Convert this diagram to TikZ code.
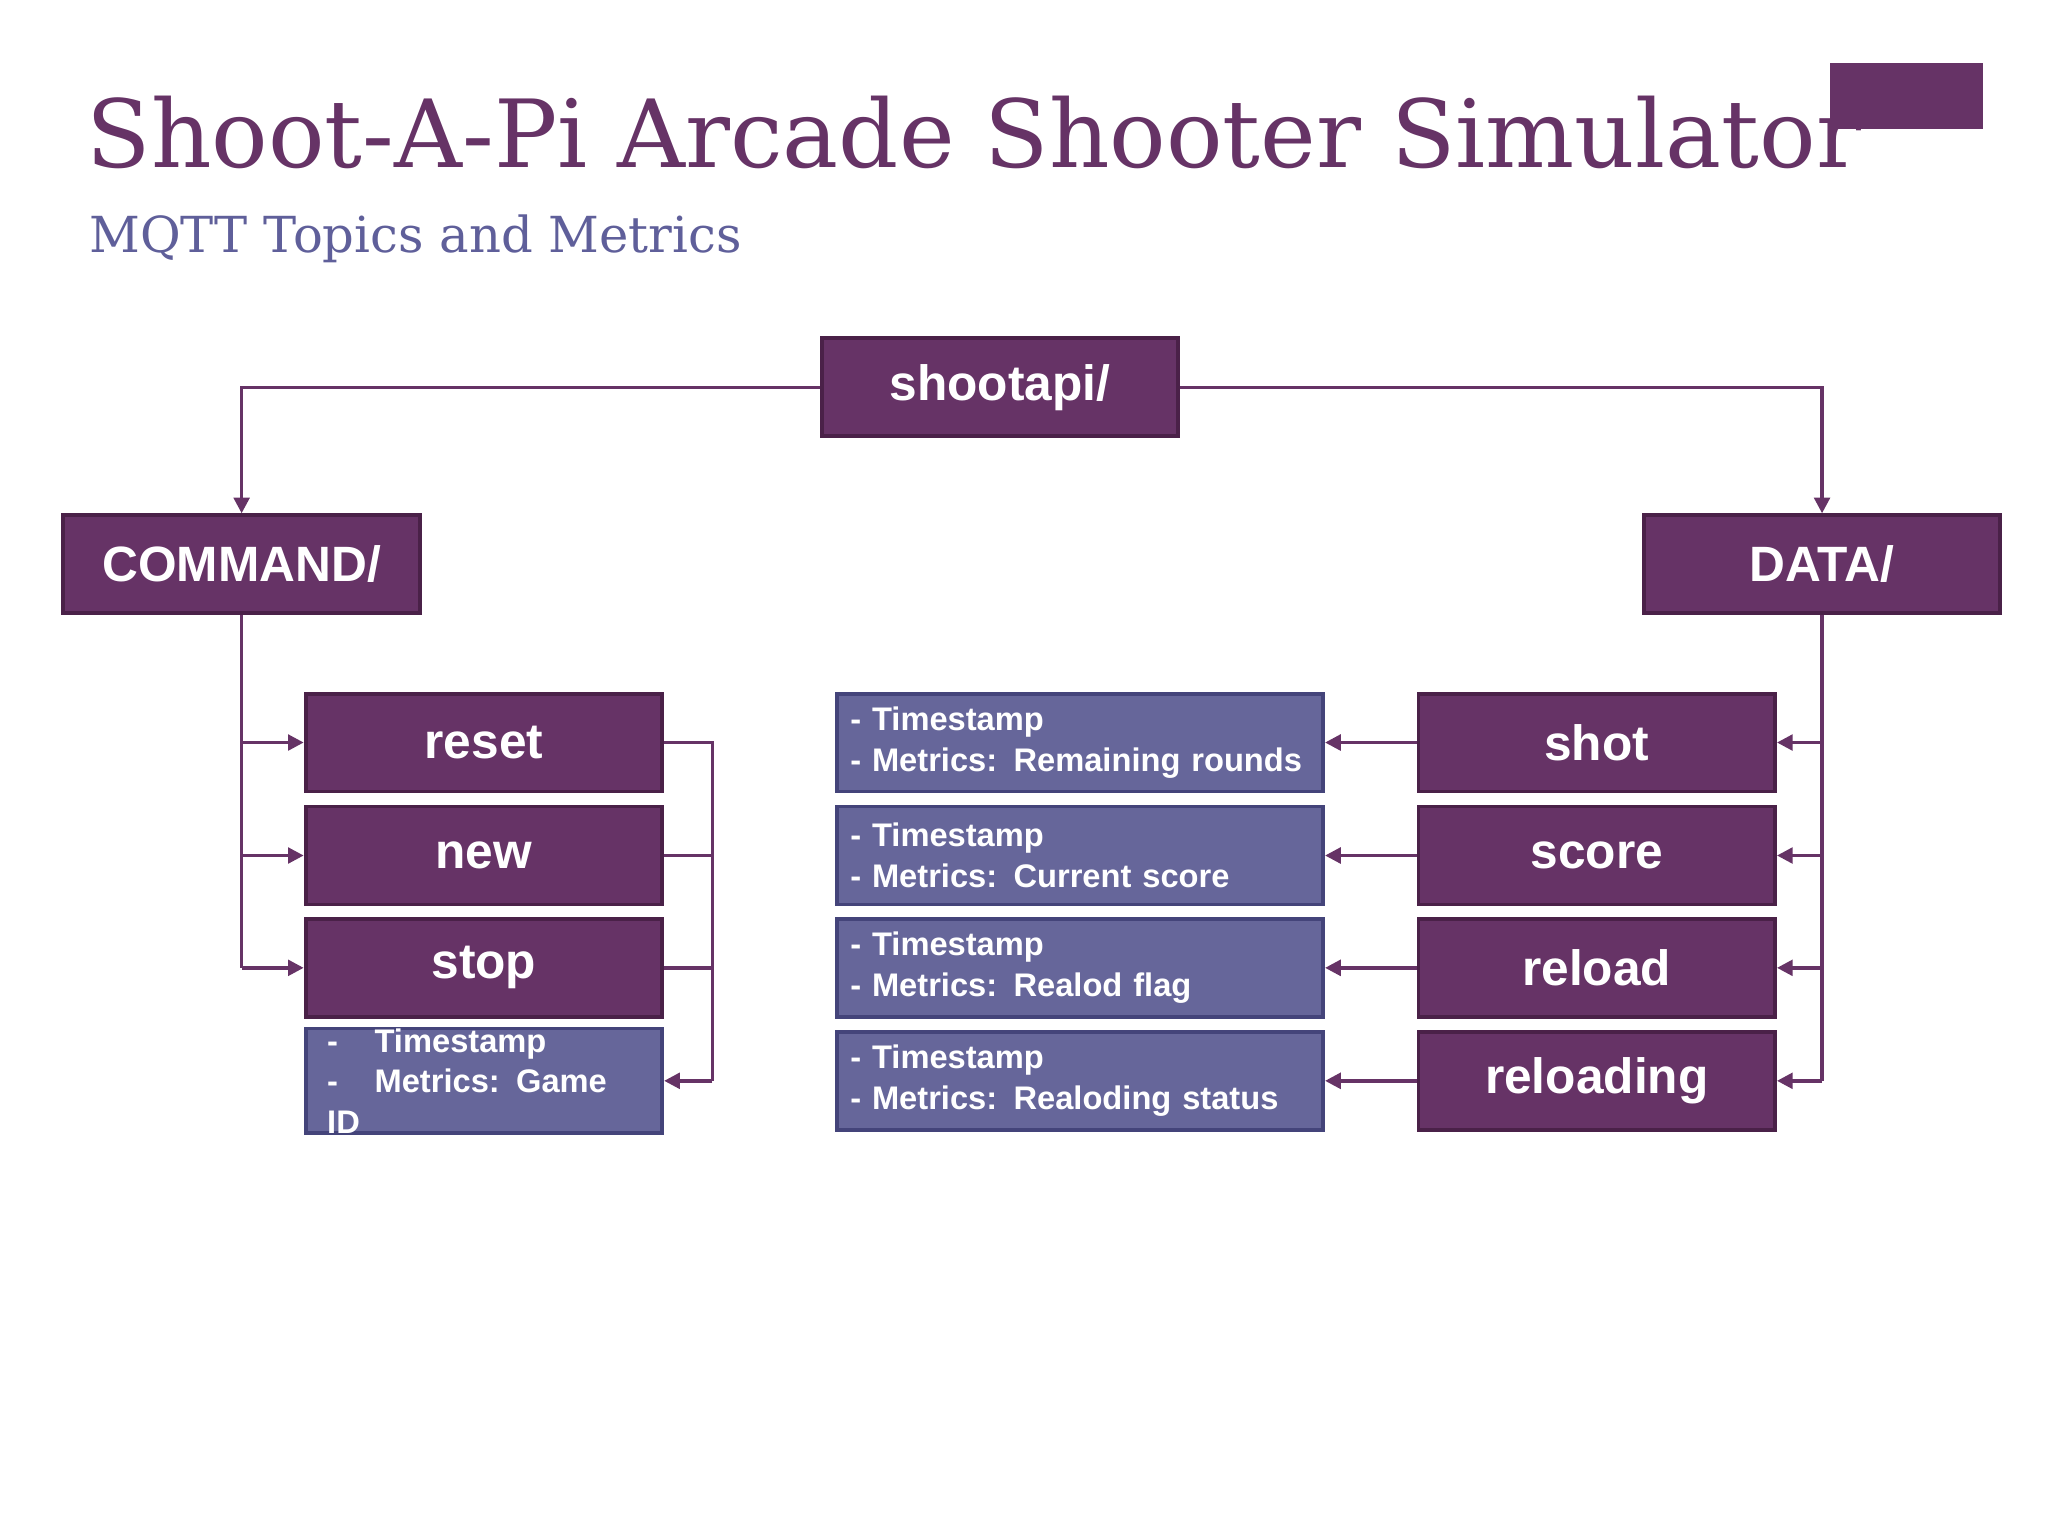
\documentclass[tikz,border=0pt]{standalone}
\usepackage{fontspec}
\setmainfont{Liberation Sans}
\newfontfamily\titlefont{DejaVu Serif}
\usetikzlibrary{arrows.meta}
\definecolor{pur}{HTML}{663366}
\definecolor{purd}{HTML}{4A2148}
\definecolor{blu}{HTML}{66669A}
\definecolor{blud}{HTML}{44447A}
\definecolor{sub}{HTML}{5F5F9A}
\tikzset{
 pbox/.style={draw=purd,line width=1.5pt,fill=pur,text=white,font=\bfseries\fontsize{19}{22}\selectfont,minimum width=136.5pt,minimum height=37.5pt,inner sep=0pt},
 ibox/.style={draw=blud,line width=1.5pt,fill=blu,text=white,font=\bfseries\fontsize{12.5}{15.5}\selectfont,minimum height=37.5pt,inner sep=0pt,align=left},
 con/.style={draw=pur,line width=1.3pt},
 arr/.style={con,-{Triangle[length=6pt,width=6pt]}}
}
\begin{document}
\begin{tikzpicture}[x=0.5pt,y=-0.5pt]
\useasboundingbox (0,0) rectangle (1568,1176);
\fill[white] (0,0) rectangle (1568,1176);
\fill[pur] (1401,48) rectangle (1518,99);
\node[anchor=base west,text=pur,inner sep=0] (title) at (66,128) {\titlefont\fontsize{36}{40}\selectfont Shoot-A-Pi Arcade Shooter Simulator};
\node[anchor=base west,text=sub,inner sep=0] (subt) at (68,193) {\titlefont\fontsize{19}{22}\selectfont MQTT Topics and Metrics};

\node[pbox] (root) at (765.5,296.5) {shootapi/};
\node[pbox] (cmd) at (185,432) {COMMAND/};
\node[pbox] (data) at (1395,432) {DATA/};
\node[pbox] (reset) at (370.5,568.5) {reset};
\node[pbox] (new) at (370.5,655) {new};
\node[pbox] (stop) at (370.5,741) {stop};
\node[ibox,minimum width=136.5pt,text width=120pt] (cinfo) at (370.5,827.5) {-\hspace{14pt}Timestamp\\-\hspace{14pt}Metrics: Game ID};
\node[pbox] (shot) at (1222.5,568.5) {shot};
\node[pbox] (score) at (1222.5,655) {score};
\node[pbox] (reload) at (1222.5,741) {reload};
\node[pbox] (reloading) at (1222.5,827.5) {reloading};
\node[ibox,minimum width=186pt,text width=176pt] (i1) at (827,568.5) {- Timestamp\\- Metrics: Remaining rounds};
\node[ibox,minimum width=186pt,text width=176pt] (i2) at (827,655) {- Timestamp\\- Metrics: Current score};
\node[ibox,minimum width=186pt,text width=176pt] (i3) at (827,741) {- Timestamp\\- Metrics: Realod flag};
\node[ibox,minimum width=186pt,text width=176pt] (i4) at (827,827.5) {- Timestamp\\- Metrics: Realoding status};

\draw[arr] (root.west) -| (cmd.north);
\draw[arr] (root.east) -| (data.north);
\draw[con] (cmd.south) -- (cmd.south |- stop.west);
\foreach \n in {reset,new,stop} \draw[arr] (cmd.south |- \n.west) -- (\n.west);
\draw[con] (reset.east) -- ++(37,0) coordinate (rc) -- (rc |- cinfo.east);
\foreach \n in {new,stop} \draw[con] (\n.east) -- (rc |- \n.east);
\draw[arr] (rc |- cinfo.east) -- (cinfo.east);
\draw[con] (data.south) -- (data.south |- reloading.east);
\foreach \n in {shot,score,reload,reloading} \draw[arr] (data.south |- \n.east) -- (\n.east);
\draw[arr] (shot.west) -- (i1.east);
\draw[arr] (score.west) -- (i2.east);
\draw[arr] (reload.west) -- (i3.east);
\draw[arr] (reloading.west) -- (i4.east);
\end{tikzpicture}
\end{document}
